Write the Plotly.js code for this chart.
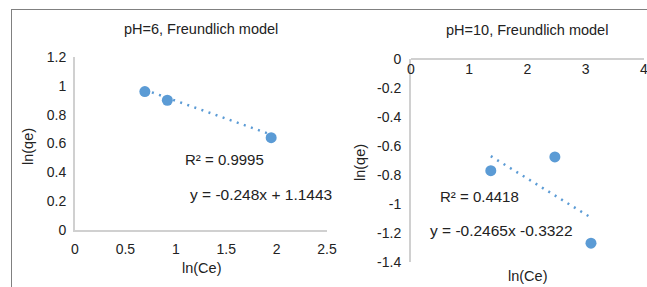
<!DOCTYPE html>
<html><head><meta charset="utf-8">
<script src="https://cdn.plot.ly/plotly-3.0.1.min.js"></script>
<style>html,body{margin:0;padding:0;background:#fff}#chart{width:647px;height:287px}</style>
</head><body><div id="chart"></div>
<script>
// ---- data ----
const lnCe_pH6 = [0.693, 0.916, 1.946];
const lnQe_pH6 = [0.96, 0.90, 0.64];
const fit_pH6 = {slope: -0.248, intercept: 1.1443};
const r2_pH6 = "0.9995";
const eq_pH6 = "y = -0.248x + 1.1443";

const lnCe_pH10 = [1.37, 2.47, 3.09];
const lnQe_pH10 = [-0.77, -0.675, -1.27];
const fit_pH10 = {slope: -0.2465, intercept: -0.3322};
const r2_pH10 = "0.4418";
const eq_pH10 = "y = -0.2465x -0.3322";

const xTicks_pH6 = [0, 0.5, 1, 1.5, 2, 2.5];
const xLabels_pH6 = ["0", "0.5", "1", "1.5", "2", "2.5"];
const yTicks_pH6 = [0, 0.2, 0.4, 0.6, 0.8, 1, 1.2];
const yLabels_pH6 = ["0", "0.2", "0.4", "0.6", "0.8", "1", "1.2"];
const xTicks_pH10 = [0, 1, 2, 3, 4];
const xLabels_pH10 = ["0", "1", "2", "3", "4"];
const yTicks_pH10 = [0, -0.2, -0.4, -0.6, -0.8, -1, -1.2, -1.4];
const yLabels_pH10 = ["0", "-0.2", "-0.4", "-0.6", "-0.8", "-1", "-1.2", "-1.4"];

// ---- layout helpers ----
const W = 647, H = 287;
const px = v => v / W;
const py = v => 1 - v / H;
const FONT = "Liberation Sans, Arial, sans-serif";
const TXT = "#222222";
const BLUE = "#5B9BD5";

function trend(xs, fit) {
  const x0 = Math.min(...xs), x1 = Math.max(...xs);
  return {x: [x0, x1], y: [fit.slope * x0 + fit.intercept, fit.slope * x1 + fit.intercept]};
}
const t6 = trend(lnCe_pH6, fit_pH6);
const t10 = trend(lnCe_pH10, fit_pH10);

const traces = [
  {x: t6.x, y: t6.y, xaxis: 'x', yaxis: 'y', mode: 'lines', line: {color: BLUE, width: 2.5, dash: '2px,5.5px'}, hoverinfo: 'skip'},
  {x: lnCe_pH6, y: lnQe_pH6, xaxis: 'x', yaxis: 'y', mode: 'markers', marker: {color: BLUE, size: 11}},
  {x: t10.x, y: t10.y, xaxis: 'x2', yaxis: 'y2', mode: 'lines', line: {color: BLUE, width: 2.5, dash: '2px,5.5px'}, hoverinfo: 'skip'},
  {x: lnCe_pH10, y: lnQe_pH10, xaxis: 'x2', yaxis: 'y2', mode: 'markers', marker: {color: BLUE, size: 11}}
];

const axBase = {
  showgrid: false, zeroline: false, showline: true, linecolor: '#d0d0d0', linewidth: 2,
  ticks: '', tickfont: {family: FONT, size: 14, color: TXT}, tickmode: 'array', fixedrange: true,
  ticklabeloverflow: 'allow'
};

const ann = (text, x, y, size, extra) => Object.assign({
  text: text, xref: 'paper', yref: 'paper', x: px(x), y: py(y), xanchor: 'center', yanchor: 'middle',
  showarrow: false, font: {family: FONT, size: size, color: TXT}
}, extra || {});

const layout = {
  width: W, height: H, margin: {l: 0, r: 0, t: 0, b: 0},
  paper_bgcolor: '#fff', plot_bgcolor: 'rgba(0,0,0,0)', showlegend: false,
  font: {family: FONT, size: 14, color: TXT},
  xaxis: Object.assign({}, axBase, {domain: [px(75), px(327)], range: [0, 2.5], anchor: 'y',
    tickvals: xTicks_pH6, ticktext: xLabels_pH6, ticklabelstandoff: 5}),
  yaxis: Object.assign({}, axBase, {domain: [1 - 230 / H, 1 - 57 / H], range: [0, 1.2], anchor: 'x',
    tickvals: yTicks_pH6, ticktext: yLabels_pH6, ticklabelstandoff: 4}),
  xaxis2: Object.assign({}, axBase, {domain: [px(411), px(644)], range: [0, 4], anchor: 'free',
    position: 1 - 59 / H, side: 'bottom', tickvals: xTicks_pH10, ticktext: xLabels_pH10, ticklabelstandoff: -3}),
  yaxis2: Object.assign({}, axBase, {domain: [1 - 262 / H, 1 - 59 / H], range: [-1.4, 0], anchor: 'x2',
    tickvals: yTicks_pH10, ticktext: yLabels_pH10, ticklabelstandoff: 5}),
  shapes: [
    {type: 'line', xref: 'paper', yref: 'paper', x0: px(11), x1: 1, y0: py(9.5), y1: py(9.5), line: {color: '#808080', width: 1}},
    {type: 'line', xref: 'paper', yref: 'paper', x0: px(11.5), x1: px(11.5), y0: py(9), y1: 0, line: {color: '#808080', width: 1}}
  ],
  annotations: [
    ann('pH=6, Freundlich model', 201, 29, 14.5),
    ann('pH=10, Freundlich model', 527, 30, 14.5),
    ann('ln(qe)', 28, 147, 14.5, {textangle: -90}),
    ann('ln(Ce)', 201, 268, 14.5),
    ann('ln(qe)', 360, 163, 14.5, {textangle: -90}),
    ann('ln(Ce)', 527, 276, 14.5),
    ann('R² = ' + r2_pH6, 183, 159, 15, {xanchor: 'left'}),
    ann(eq_pH6, 188, 194, 15.5, {xanchor: 'left'}),
    ann('R² = ' + r2_pH10, 438, 196, 15, {xanchor: 'left'}),
    ann(eq_pH10, 428, 230, 15.5, {xanchor: 'left'})
  ]
};

Plotly.newPlot('chart', traces, layout, {staticPlot: true, displayModeBar: false});
</script>
</body></html>
